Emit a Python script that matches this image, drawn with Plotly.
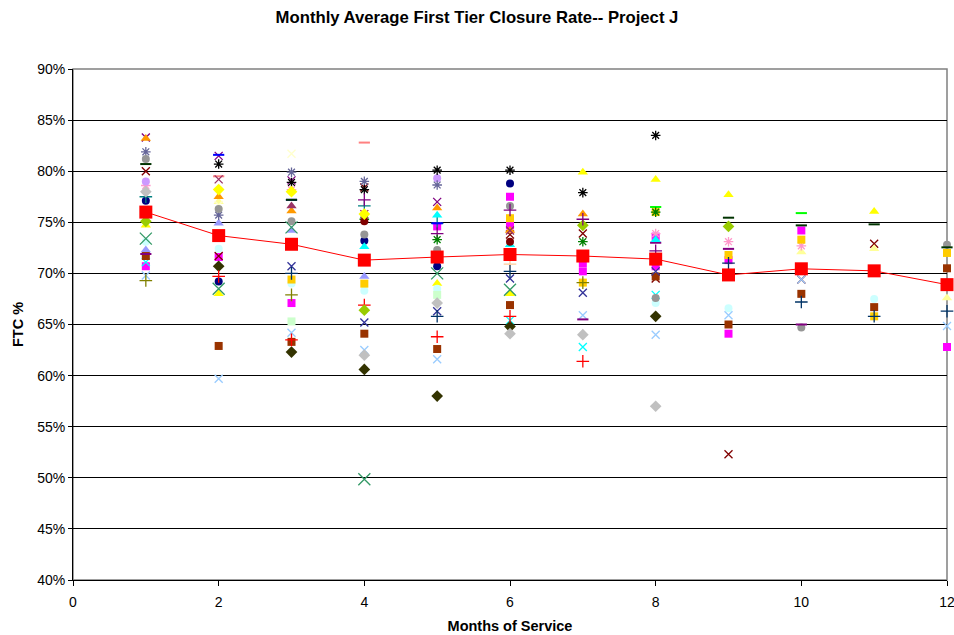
import plotly.graph_objects as go

N = None
months = list(range(1, 13))
x_ticks = [0, 2, 4, 6, 8, 10, 12]

# FTC % per project, by month of service (None = no report that month)
navy_circle = [77.1, 69.2, N, 73.2, 70.7, 78.8, N, N, N, N, N, N]
magenta_square = [70.7, 71.6, 67.1, N, N, 77.5, 71.0, 73.6, 64.1, 74.2, N, 62.8]
magenta_square_b = [N, N, N, N, 74.6, 74.7, 70.2, 70.7, 71.3, N, N, N]
yellow_triangle = [74.7, 68.0, N, N, 69.0, 68.0, 79.9, 79.2, 77.7, N, 76.05, N]
cyan_x = [71.1, N, N, N, N, 65.4, 62.8, 67.9, N, N, N, N]
purple_x = [83.3, 81.5, 79.1, N, 77.0, N, N, N, N, N, N, N]
darkred_x = [80.0, 71.7, N, 78.4, N, 73.8, 73.9, 69.5, 52.3, 69.4, 72.9, N]
teal_plus = [77.5, N, N, 76.6, 74.9, N, N, N, N, N, N, N]
blue_dash = [N, 81.6, 77.2, N, 74.9, N, N, N, N, N, N, N]
pale_cyan_circle = [73.1, 72.4, 69.0, 68.3, 68.5, N, N, 67.1, 66.6, N, 67.5, N]
pale_green_square = [N, N, 65.3, N, 67.9, N, N, N, N, N, N, N]
pale_yellow_triangle = [N, 77.0, N, N, N, N, N, N, N, 72.1, 72.4, 67.6]
light_blue_x = [69.8, 59.7, 64.2, 62.5, 61.6, N, 65.9, 64.0, 65.9, 69.4, N, 64.85]
pink_star = [78.6, N, 78.2, 75.8, N, N, N, 73.9, 73.1, 72.7, N, N]
lavender_circle = [79.0, N, N, N, 79.3, N, N, N, N, N, N, N]
peach_plus = [N, N, N, N, N, 70.9, N, N, N, N, N, N]
cream_x = [N, 76.7, 81.7, N, N, N, N, N, N, N, N, N]
periwinkle_triangle = [72.3, 74.9, 74.2, 69.7, N, N, N, N, N, N, N, N]
gold_square = [N, N, 69.4, 69.0, N, 75.4, 69.1, 76.0, 71.8, 73.3, 65.8, 72.0]
orange_triangle = [83.2, 77.5, 76.1, N, 76.4, 74.2, 75.8, N, N, N, N, N]
slate_star = [81.9, 75.7, 79.9, 79.0, 78.65, N, N, N, N, N, N, N]
grey_circle = [81.2, 76.3, 75.1, 73.8, 72.3, 76.6, N, 67.6, N, 64.7, N, 72.8]
darkgreen_dash = [80.7, N, 77.2, N, N, N, N, N, 75.45, 74.7, 74.8, 72.55]
olive_diamond = [N, 70.7, 62.3, 60.6, 58.0, 64.8, N, 65.8, N, N, N, N]
brown_square = [71.7, 62.9, 63.3, 64.1, 62.6, 66.9, N, 69.7, 65.0, 68.0, 66.7, 70.5]
maroon_triangle = [N, N, 76.6, N, N, N, N, N, N, N, N, N]
indigo_x = [N, N, 70.7, 65.2, 66.3, 69.5, 68.1, 70.2, N, N, N, N]
seagreen_x = [73.4, 68.5, 74.5, 49.85, 70.0, 68.4, N, N, N, N, N, N]
black_star = [N, 80.7, 78.9, 78.2, 80.1, 80.1, 77.9, 83.5, N, N, N, N]
red_plus = [N, 69.7, 63.5, 66.9, 63.8, 65.8, 61.4, N, N, N, N, N]
silver_diamond = [78.0, N, N, 62.0, 67.1, 64.1, 64.0, 57.0, N, N, N, N]
olive_plus = [69.3, N, 67.9, N, N, N, 69.1, N, N, N, N, N]
navy_plus = [N, N, 70.0, N, 65.8, 70.2, N, N, 71.0, 67.2, 65.8, 66.3]
yellowgreen_diamond = [75.1, N, N, 66.4, N, N, 74.7, N, 74.6, N, N, N]
purple_plus = [N, N, N, 77.2, 73.9, 76.2, 75.3, 72.2, N, N, N, N]
purple_dash = [71.9, N, N, N, N, N, 65.5, 73.0, 72.4, 65.0, N, N]
green_dash = [N, N, N, N, N, N, N, 76.5, N, 75.9, N, N]
salmon_dash = [N, 79.5, N, 82.8, N, N, N, N, N, N, N, N]
rose_x = [N, 79.2, N, 75.8, N, 74.2, N, N, N, N, N, N]
green_star = [N, N, N, 75.3, 73.3, N, 73.1, 76.0, N, N, N, N]
cyan_triangle = [N, N, N, 72.6, 75.7, 72.8, N, 73.3, N, N, N, N]
darkred_circle = [N, N, N, 75.1, N, 73.1, N, N, N, N, N, N]
yellow_diamond = [N, 78.2, 78.0, 75.8, N, N, N, N, N, N, N, N]

# monthly average across all projects
average = [76.0, 73.7, 72.85, 71.3, 71.6, 71.85, 71.7, 71.4, 69.85, 70.45, 70.25, 68.9]

# (values, marker kind, colour)
series = [
    (navy_circle, "circle", "#000080"),
    (magenta_square, "square", "#FF00FF"),
    (magenta_square_b, "square", "#FF00FF"),
    (yellow_triangle, "triangle", "#FFFF00"),
    (cyan_x, "x", "#00FFFF"),
    (purple_x, "x", "#800080"),
    (darkred_x, "x", "#800000"),
    (teal_plus, "plus", "#008080"),
    (blue_dash, "dash", "#0000FF"),
    (pale_cyan_circle, "circle", "#CCFFFF"),
    (pale_green_square, "square", "#CCFFCC"),
    (pale_yellow_triangle, "triangle", "#FFFF99"),
    (light_blue_x, "x", "#99CCFF"),
    (pink_star, "star", "#FF99CC"),
    (lavender_circle, "circle", "#CC99FF"),
    (peach_plus, "plus", "#FFCC99"),
    (cream_x, "x", "#FFFFCC"),
    (periwinkle_triangle, "triangle", "#9999FF"),
    (gold_square, "square", "#FFCC00"),
    (orange_triangle, "triangle", "#FF9900"),
    (slate_star, "star", "#666699"),
    (grey_circle, "circle", "#969696"),
    (darkgreen_dash, "dash", "#003300"),
    (olive_diamond, "diamond", "#333300"),
    (brown_square, "square", "#993300"),
    (maroon_triangle, "triangle", "#993366"),
    (indigo_x, "x", "#333399"),
    (seagreen_x, "bigx", "#339966"),
    (black_star, "star", "#000000"),
    (red_plus, "plus", "#FF0000"),
    (silver_diamond, "diamond", "#C0C0C0"),
    (olive_plus, "plus", "#808000"),
    (navy_plus, "plus", "#003366"),
    (yellowgreen_diamond, "diamond", "#99CC00"),
    (purple_plus, "plus", "#800080"),
    (purple_dash, "dash", "#800080"),
    (green_dash, "dash", "#00FF00"),
    (salmon_dash, "dash", "#FF8080"),
    (rose_x, "x", "#993366"),
    (green_star, "star", "#008000"),
    (cyan_triangle, "triangle", "#00FFFF"),
    (darkred_circle, "circle", "#800000"),
    (yellow_diamond, "diamond", "#FFFF00"),
]

marker_styles = {
    "circle": dict(symbol="circle", size=8),
    "square": dict(symbol="square", size=8),
    "triangle": dict(symbol="triangle-up", size=9),
    "diamond": dict(symbol="diamond", size=9),
    "x": dict(symbol="x-thin-open", size=8),
    "bigx": dict(symbol="x-thin-open", size=12),
    "star": dict(symbol="asterisk-open", size=8),
    "plus": dict(symbol="cross-thin-open", size=9),
    "dash": dict(symbol="line-ew-open", size=8),
}
line_kinds = {"x", "bigx", "star", "plus", "dash"}

fig = go.Figure()

for values, kind, colour in series:
    st = marker_styles[kind]
    if kind in line_kinds:
        marker = dict(symbol=st["symbol"], size=st["size"], color=colour,
                      line=dict(color=colour, width=2 if kind == "dash" else 1.3))
    else:
        marker = dict(symbol=st["symbol"], size=st["size"], color=colour,
                      line=dict(width=0))
    fig.add_trace(go.Scatter(x=months, y=values, mode="markers", marker=marker,
                             cliponaxis=False, showlegend=False, hoverinfo="x+y"))

fig.add_trace(go.Scatter(
    x=months, y=average, mode="lines+markers", name="Average",
    line=dict(color="#FF0000", width=1),
    marker=dict(symbol="square", size=13, color="#FF0000", line=dict(width=0)),
    cliponaxis=False, showlegend=False,
))

font_family = "Liberation Sans, Arial, sans-serif"

fig.update_layout(
    width=954, height=635,
    margin=dict(l=73, r=7, t=69, b=55, autoexpand=False),
    paper_bgcolor="white", plot_bgcolor="white",
    font=dict(family=font_family, size=14, color="black"),
    title=dict(text="<b>Monthly Average First Tier Closure Rate-- Project J</b>",
               x=0.5, xanchor="center", y=0.973, yanchor="middle",
               font=dict(size=16.7, family=font_family)),
    showlegend=False,
    shapes=[dict(type="rect", xref="x domain", yref="y domain", x0=0, x1=1, y0=0, y1=1,
                 line=dict(color="#808080", width=1.5), layer="below")],
)

fig.update_xaxes(
    range=[0, 12], tickmode="array", tickvals=x_ticks, ticktext=[str(v) for v in x_ticks],
    showgrid=False, zeroline=False, automargin=False,
    showline=True, linecolor="black", linewidth=1,
    ticks="outside", ticklen=5, tickcolor="black",
    tickfont=dict(size=14), ticklabelstandoff=4, ticklabeloverflow="allow",
    title=dict(text="<b>Months of Service</b>", font=dict(size=14.5), standoff=12),
)
fig.update_yaxes(
    range=[40, 90], tickmode="linear", tick0=40, dtick=5, ticksuffix="%",
    showgrid=True, gridcolor="black", gridwidth=1, zeroline=False, automargin=False,
    showline=True, linecolor="black", linewidth=1,
    ticks="outside", ticklen=4, tickcolor="black",
    tickfont=dict(size=14),
    title=dict(text="<b>FTC %</b>", font=dict(size=14.5), standoff=10),
)

fig.write_html("out.html")
